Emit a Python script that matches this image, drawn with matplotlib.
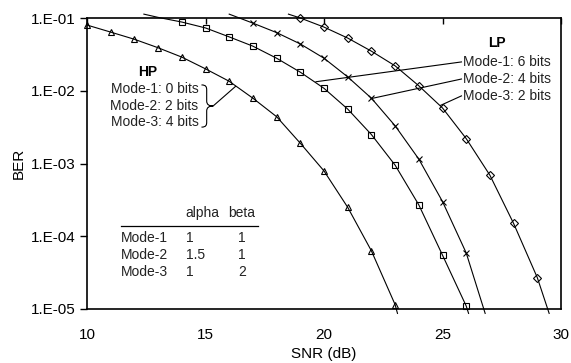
import numpy as np
import matplotlib
matplotlib.use("Agg")
import matplotlib.pyplot as plt
from matplotlib.path import Path
from matplotlib.patches import PathPatch

plt.rcParams['font.family'] = ['Liberation Sans', 'DejaVu Sans']

# BER curves (lines run slightly past the frame, markers only inside it)
tri_snr = [10, 11, 12, 13, 14, 15, 16, 17, 18, 19, 20, 21, 22, 23, 23.1]
tri_ber = [8.0e-2, 6.4e-2, 5.1e-2, 3.9e-2, 2.9e-2, 2.0e-2, 1.35e-2, 7.9e-3,
           4.4e-3, 1.9e-3, 7.9e-4, 2.5e-4, 6.3e-5, 1.15e-5, 8.7e-6]

sq_snr = [12.4, 13, 14, 15, 16, 17, 18, 19, 20, 21, 22, 23, 24, 25, 26, 26.1]
sq_ber = [1.13e-1, 1.02e-1, 8.8e-2, 7.3e-2, 5.5e-2, 4.1e-2, 2.8e-2, 1.8e-2,
          1.08e-2, 5.6e-3, 2.5e-3, 9.5e-4, 2.7e-4, 5.5e-5, 1.1e-5, 8.7e-6]

x_snr = [16, 17, 18, 19, 20, 21, 22, 23, 24, 25, 26, 26.8]
x_ber = [1.13e-1, 8.5e-2, 6.3e-2, 4.4e-2, 2.8e-2, 1.55e-2, 7.9e-3, 3.3e-3,
         1.15e-3, 3.0e-4, 5.9e-5, 8.7e-6]

dia_snr = [18.5, 19, 20, 21, 22, 23, 24, 25, 26, 27, 28, 29, 29.5]
dia_ber = [1.13e-1, 1.0e-1, 7.5e-2, 5.3e-2, 3.5e-2, 2.2e-2, 1.17e-2, 5.8e-3,
           2.2e-3, 6.9e-4, 1.5e-4, 2.7e-5, 8.7e-6]

hp_labels = ['Mode-1: 0 bits', 'Mode-2: 2 bits', 'Mode-3: 4 bits']
lp_labels = ['Mode-1: 6 bits', 'Mode-2: 4 bits', 'Mode-3: 2 bits']

table_modes = ['Mode-1', 'Mode-2', 'Mode-3']
table_alpha = ['1', '1.5', '1']
table_beta = ['1', '1', '2']

y_ticks = [1e-5, 1e-4, 1e-3, 1e-2, 1e-1]
y_tick_labels = ['1.E-05', '1.E-04', '1.E-03', '1.E-02', '1.E-01']
x_ticks = [10, 15, 20, 25, 30]

fig = plt.figure(figsize=(5.71, 3.63), dpi=100)
ax = fig.add_axes([87 / 571, 1 - 309 / 363, 474 / 571, 291 / 363])


def draw_curve(snr, ber, marker, ms):
    snr = np.array(snr)
    ber = np.array(ber)
    ax.plot(snr, ber, color='k', lw=0.8, clip_on=False, zorder=3)
    inside = (ber >= 0.999e-5) & (ber <= 1.001e-1)
    ax.plot(snr[inside], ber[inside], ls='none', marker=marker, ms=ms,
            mfc='none', mec='k', mew=0.8, clip_on=False, zorder=4)


draw_curve(tri_snr, tri_ber, '^', 5.0)
draw_curve(sq_snr, sq_ber, 's', 4.0)
draw_curve(x_snr, x_ber, 'x', 4.5)
draw_curve(dia_snr, dia_ber, 'D', 3.8)

ax.set_yscale('log')
ax.set_xlim(10, 30)
ax.set_ylim(1e-5, 1e-1)
ax.set_yticks(y_ticks, labels=y_tick_labels)
ax.minorticks_off()
ax.set_xticks(x_ticks)
ax.tick_params(axis='y', direction='out', length=5, width=1, labelsize=11, pad=3)
ax.tick_params(axis='x', top=True, bottom=False, direction='in', length=4,
               width=1, labelsize=11, pad=14)
for side in ax.spines.values():
    side.set_linewidth(1.2)

ax.set_xlabel('SNR (dB)', fontsize=11, labelpad=3)
ax.set_ylabel('BER', fontsize=11, labelpad=4)

# HP annotation with brace
ax.text(12.54, 1.81e-2, 'HP', fontsize=10, fontweight='bold', ha='center', va='center')
for lab, y in zip(hp_labels, [1.06e-2, 6.2e-3, 3.7e-3]):
    ax.text(14.7, y, lab, fontsize=10, ha='right', va='center', color='#222222')

bx0, bx1, bx2 = 14.83, 15.05, 15.32
verts = [(bx0, 10 ** -1.92), (bx1 - 0.02, 10 ** -1.92), (bx1, 10 ** -1.95), (bx1, 10 ** -1.99),
         (bx1, 10 ** -2.14),
         (bx1, 10 ** -2.19), (bx1 + 0.1, 10 ** -2.21), (bx2, 10 ** -2.21),
         (bx1 + 0.1, 10 ** -2.21), (bx1, 10 ** -2.23), (bx1, 10 ** -2.28),
         (bx1, 10 ** -2.43),
         (bx1, 10 ** -2.47), (bx1 - 0.02, 10 ** -2.50), (bx0, 10 ** -2.50)]
codes = [Path.MOVETO, Path.CURVE4, Path.CURVE4, Path.CURVE4, Path.LINETO,
         Path.CURVE4, Path.CURVE4, Path.CURVE4, Path.CURVE4, Path.CURVE4, Path.CURVE4,
         Path.LINETO, Path.CURVE4, Path.CURVE4, Path.CURVE4]
ax.add_patch(PathPatch(Path(verts, codes), fill=False, lw=0.8, ec='k'))
ax.plot([bx2, 16.27], [10 ** -2.21, 1.15e-2], color='k', lw=0.8)

# LP annotation with leader lines
ax.text(27.29, 4.5e-2, 'LP', fontsize=10, fontweight='bold', ha='center', va='center')
lp_text_y = [2.49e-2, 1.45e-2, 8.5e-3]
lp_targets = [(19.66, 1.33e-2), (21.99, 7.8e-3), (24.92, 6.3e-3)]
for lab, y, (tx, ty) in zip(lp_labels, lp_text_y, lp_targets):
    ax.text(25.85, y, lab, fontsize=10, ha='left', va='center', color='#222222')
    ax.plot([25.8, tx], [y, ty], color='k', lw=0.8)

# parameter table
ax.text(14.15, 2.1e-4, 'alpha', fontsize=10, ha='left', va='center', color='#222222')
ax.text(15.97, 2.1e-4, 'beta', fontsize=10, ha='left', va='center', color='#222222')
ax.plot([11.44, 17.2], [1.39e-4, 1.39e-4], color='k', lw=0.9)
for mode, a, b, y in zip(table_modes, table_alpha, table_beta, [9.5e-5, 5.6e-5, 3.25e-5]):
    ax.text(11.44, y, mode, fontsize=10, ha='left', va='center', color='#222222')
    ax.text(14.19, y, a, fontsize=10, ha='left', va='center', color='#222222')
    ax.text(16.55, y, b, fontsize=10, ha='center', va='center', color='#222222')

fig.savefig('out.png', dpi=100)
